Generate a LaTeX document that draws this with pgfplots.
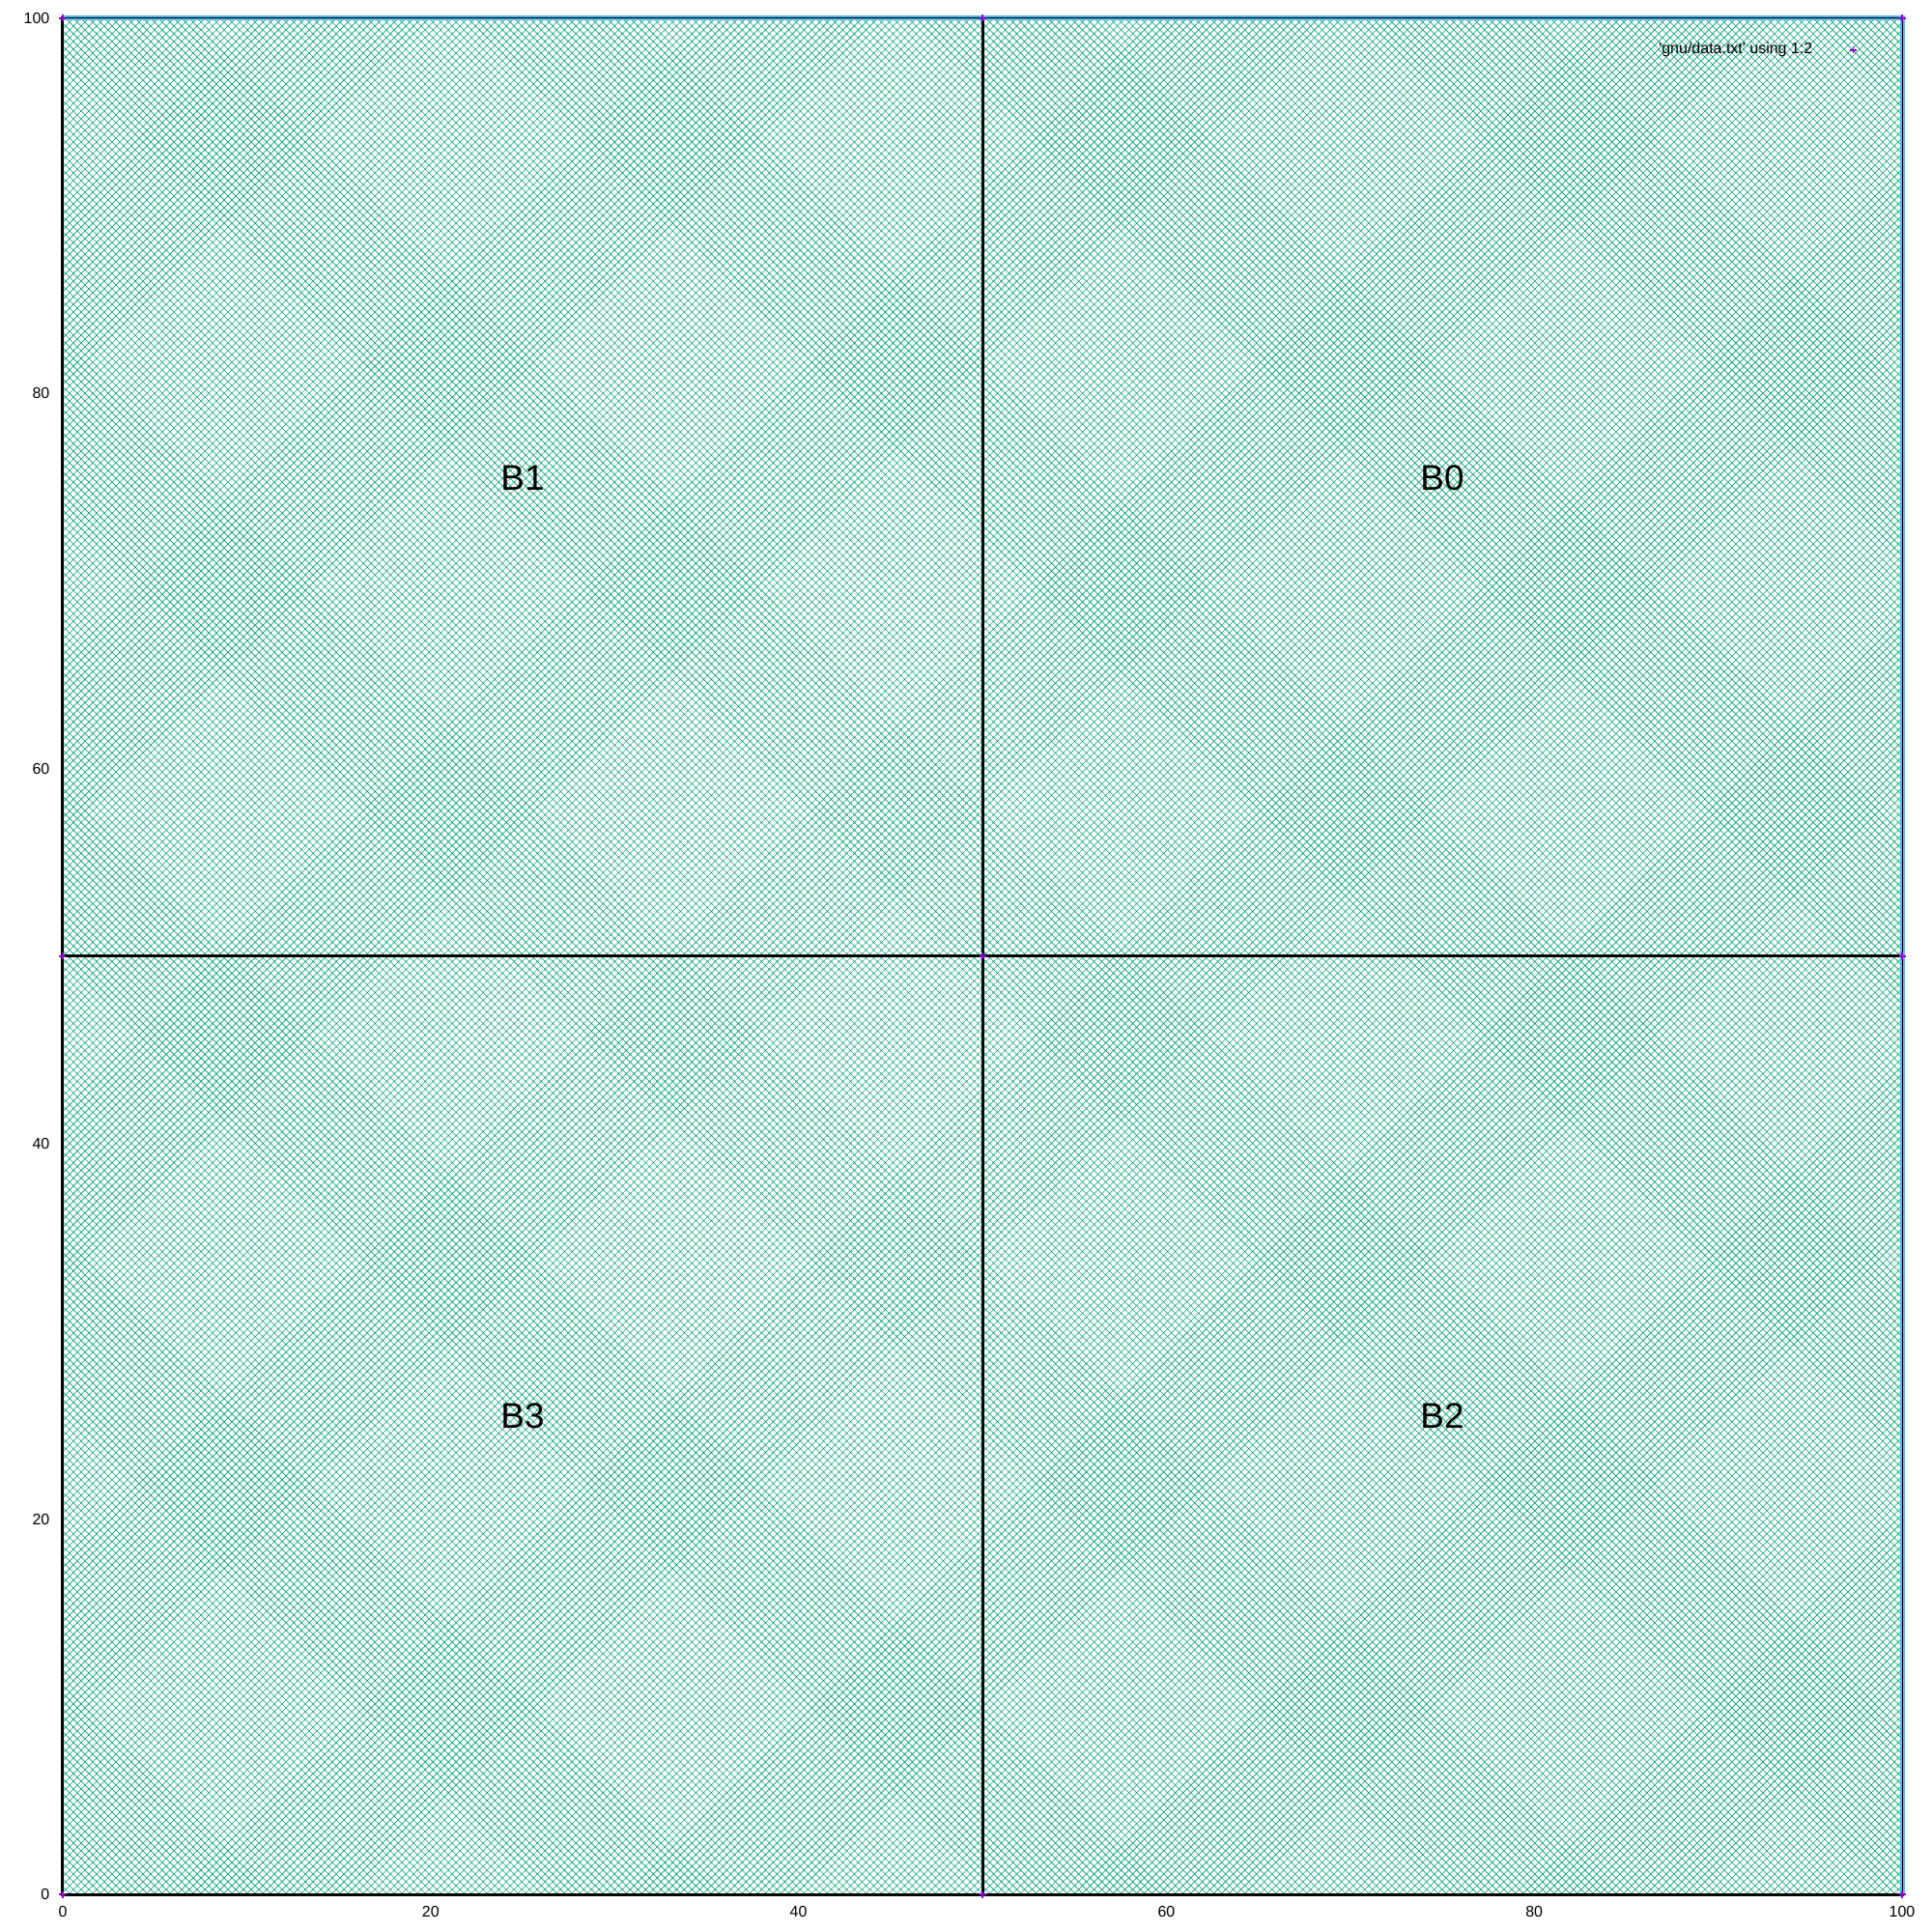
\documentclass[border=0pt]{standalone}
\usepackage{fontspec}
\setmainfont{Liberation Sans}
\usepackage{pgfplots}
\pgfplotsset{compat=1.18}
\usetikzlibrary{patterns.meta}
\definecolor{gpgreen}{HTML}{009E73}
\definecolor{gpblue}{HTML}{56B4E9}
\definecolor{gppurple}{HTML}{9400D3}
\begin{document}
\begin{tikzpicture}
\path[use as bounding box] (-6.5mm,-3.9mm) rectangle (193.5mm,196.1mm);
\begin{axis}[
  at={(0,0)}, anchor=south west,
  scale only axis, width=190.4mm, height=194.2mm,
  xmin=0, xmax=100, ymin=0, ymax=100,
  xtick={0,20,...,100}, ytick={0,20,...,100},
  axis line style={draw=none},
  major tick length=0pt,
  tick label style={font=\fontsize{4.55}{5}\selectfont, inner sep=0pt},
  yticklabel style={xshift=-1.3mm},
  xticklabel style={yshift=-1.2mm},
  /pgf/number format/assume math mode=true,
  clip=false,
  legend plot pos=right,
  legend image code/.code={\path[draw=none,fill=none] (0cm,-0.5mm) rectangle (0.84cm,0.5mm); \draw[#1] plot coordinates {(0.42cm,0cm)};},
  legend style={draw=none, fill=none, inner sep=0pt, nodes={inner sep=0pt},
    font=\fontsize{4.55}{5}\selectfont,
    at={(axis description cs:0.9958,0.983)}, anchor=east},
]
\addplot[draw=black, line width=0.3mm, line cap=rect, pattern={Hatch[angle=45,distance=0.566mm,line width=0.06mm]}, pattern color=gpgreen, forget plot]
  coordinates {(50,50) (100,50) (100,100) (50,100) (50,50)};
\addplot[draw=black, line width=0.3mm, line cap=rect, pattern={Hatch[angle=45,distance=0.566mm,line width=0.06mm]}, pattern color=gpgreen, forget plot]
  coordinates {(0,50) (50,50) (50,100) (0,100) (0,50)};
\addplot[draw=black, line width=0.3mm, line cap=rect, pattern={Hatch[angle=45,distance=0.566mm,line width=0.06mm]}, pattern color=gpgreen, forget plot]
  coordinates {(50,0) (100,0) (100,50) (50,50) (50,0)};
\addplot[draw=black, line width=0.3mm, line cap=rect, pattern={Hatch[angle=45,distance=0.566mm,line width=0.06mm]}, pattern color=gpgreen, forget plot]
  coordinates {(0,0) (50,0) (50,50) (0,50) (0,0)};
\addplot[gpblue, line width=0.5mm, forget plot] coordinates {(0,100) (100,100) (100,0)};
\addplot[black, line width=0.1mm, forget plot] coordinates {(0,100) (100,100) (100,0)};
\node[font=\fontsize{10.5}{12}\selectfont] at (axis cs:75,75.5) {B0};
\node[font=\fontsize{10.5}{12}\selectfont] at (axis cs:25,75.5) {B1};
\node[font=\fontsize{10.5}{12}\selectfont] at (axis cs:75,25.5) {B2};
\node[font=\fontsize{10.5}{12}\selectfont] at (axis cs:25,25.5) {B3};
\addplot[only marks, mark=+, gppurple, mark size=0.35mm, line width=0.15mm]
  coordinates {(0,0) (0,50) (0,100) (50,0) (50,50) (50,100) (100,0) (100,50) (100,100)};
\addlegendentry{\textquotesingle gnu/data.txt\textquotesingle{} using 1:2}
\end{axis}
\end{tikzpicture}
\end{document}
